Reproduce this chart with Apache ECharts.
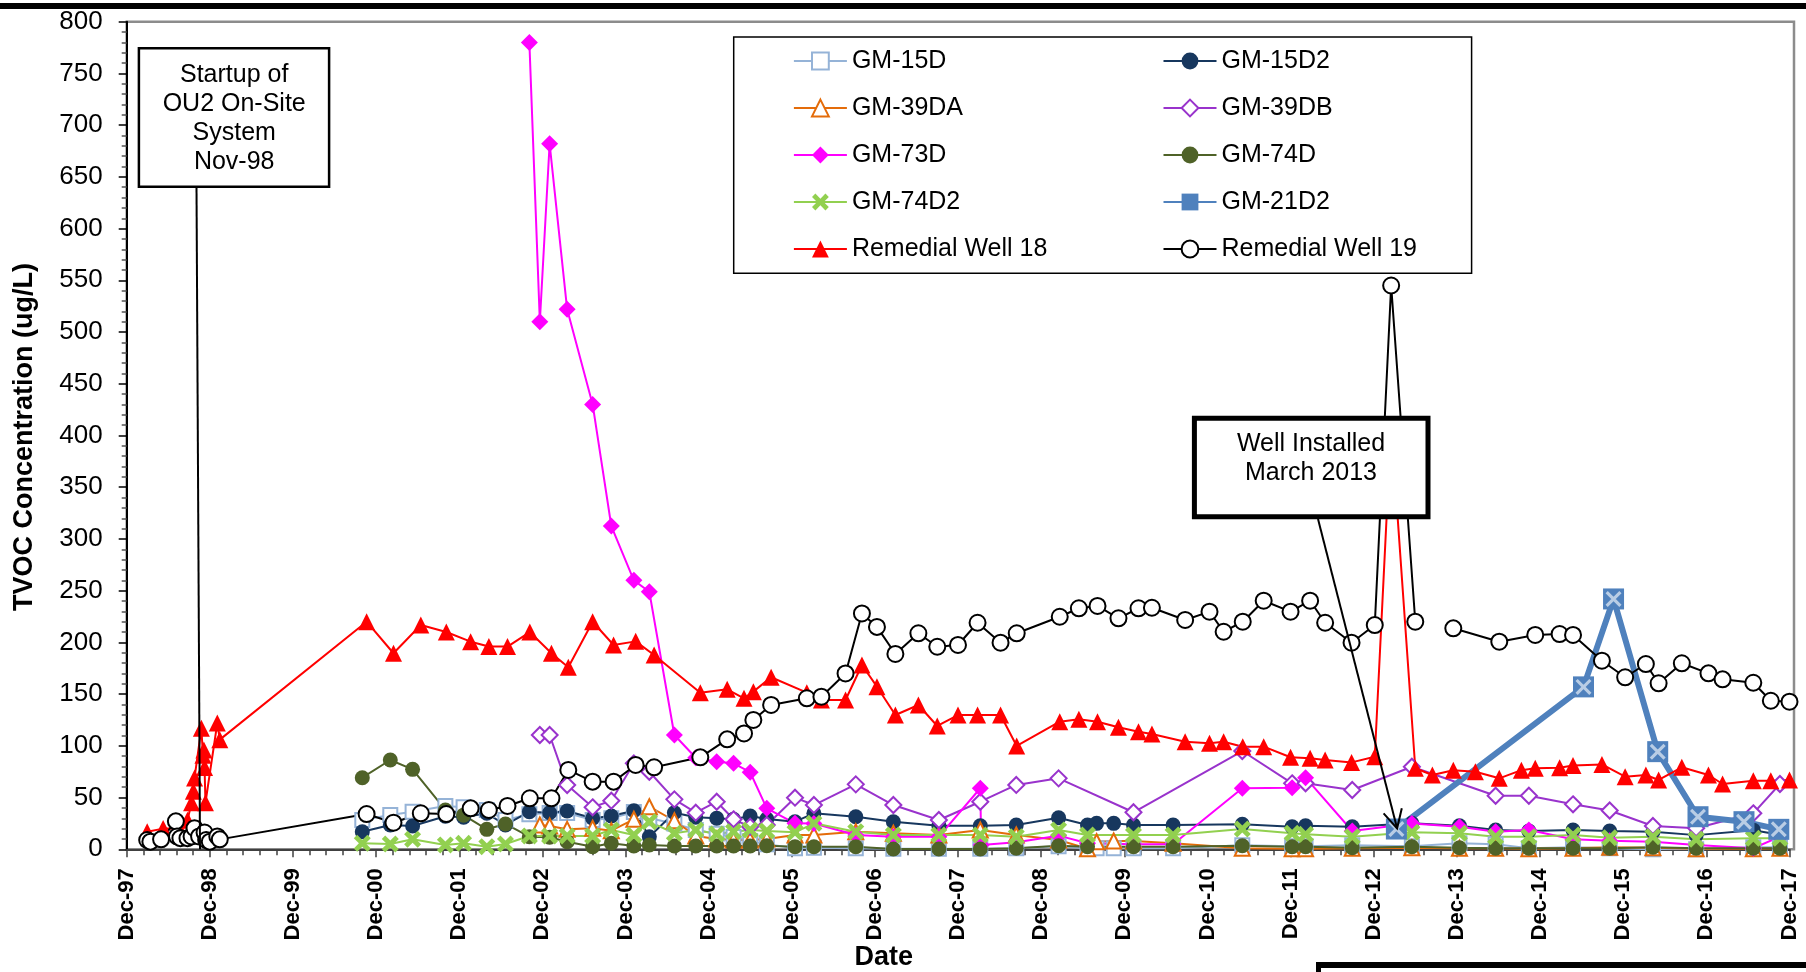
<!DOCTYPE html>
<html><head><meta charset="utf-8">
<script src="https://cdn.jsdelivr.net/npm/echarts@6/dist/echarts.min.js"></script>
<style>html,body{margin:0;padding:0;background:#fff}#c{width:1806px;height:972px}</style>
</head><body><div id="c"></div>
<script>
const FONT = '"Liberation Sans", Arial, sans-serif';
const xTickLabels = ['Dec-97','Dec-98','Dec-99','Dec-00','Dec-01','Dec-02','Dec-03','Dec-04','Dec-05','Dec-06','Dec-07','Dec-08','Dec-09','Dec-10','Dec-11','Dec-12','Dec-13','Dec-14','Dec-15','Dec-16','Dec-17'];

// Monitoring-well sampling dates (shared by the GM series)
const gmDates = ['2000-10-01','2001-02-01','2001-05-10','2001-10-01','2001-12-20','2002-04-01','2002-06-22','2002-10-05','2002-11-20','2003-01-02',
 '2003-03-20','2003-07-10','2003-09-30','2004-01-07','2004-03-15','2004-07-03','2004-10-05','2005-01-05','2005-03-20','2005-06-01',
 '2005-08-13','2005-12-15','2006-03-08','2006-09-08','2007-02-20','2007-09-08','2008-03-08','2008-03-12','2008-08-13','2009-02-15',
 '2009-06-22','2009-08-01','2009-10-15','2010-01-10','2010-07-03','2011-05-03','2011-12-08','2012-02-05','2012-08-28','2013-05-17',
 '2013-12-12','2014-05-20','2014-10-13','2015-04-25','2015-10-03','2016-04-10','2016-10-17','2017-06-25','2017-10-20'];

const gm15D = [28.3,33.2,36.3,41.9,40.6,38,28.3,34,null,35, 35,28.3,30,36,30,25,18.7,15,12,8, 5,1,1.5,1,0.5,0.5,0.5,null,1,3, 1,1,1,1,1,4,3,3,4,3, 5.8,4.8,1,2,1,0,0,2,2];
const gm15D2 = [17,23.5,22.5,32,31,34.8,23.5,36.3,null,35.4, 37,30,32.2,37.3,12.2,35.4,31,30,29,32.2, 29.3,26.7,34.8,31.5,26.7,22.8,22.8,null,23.5,30.5, 23.5,25.1,25.1,23.5,23.5,24.2,21.8,22.8,21.8,25.1, 22.8,18.7,17.7,18.7,17.7,17,13.7,18.5,14];
const gm39DA = [null,null,null,null,null,null,null,null,23.5,22.5, 19.3,20.3,18,29,41.2,27.6,12.9,10,9,9, 10,13.8,13.8,17,15.5,13.8,18.7,null,13.8,9, 0.5,7.3,8,8,5.8,1,0.5,0.5,1,1.5, 1,1,0.5,1,2,1.5,0.5,0.5,1];
const gm39DB = [null,null,null,null,null,null,null,null,110.5,110.5, 62.1,40.6,47,83.1,75,48.3,35.4,46,29,21.8, 23.5,49.9,42.8,62.8,42.8,28.3,46,null,62.2,68.6, null,null,null,35.8,null,95,63.8,63.8,57.3,79.8, null,51.8,51.8,43.5,37.5,22.5,20.3,34.8,63.1];
const gm73D = [null,null,null,null,null,null,null,780,510,682, 522,430,312.5,260,249,110.5,88.5,84.7,83.1,74.5, 39.6,25.1,25,13.8,12.2,12.2,59,4.2,6.8,13.2, 5.8,null,null,4.8,4.8,59,59.6,69.2,17.7,25, 21.8,17,18.7,9.7,8.3,7.3,4.2,1,12.2];
const gm74D = [69.2,86.3,77.3,38,33,19.3,24.5,12.2,null,11.6, 7.3,2.5,5.8,3.2,4.2,3.2,3.2,3.2,3.2,3.2, 3.5,2.5,2.5,2.5,0.3,0.3,0.3,null,1,3.5, 2.5,null,null,2.5,2.5,3.5,2.5,2.5,1.5,2.5, 1.5,1,1,1,1,2,1,1,1];
const gm74D2 = [5.8,5.1,9.7,4.2,5.8,2.5,5.1,12.9,null,12.9, 12.9,12.9,18.7,13.8,26.7,15.5,18.7,14.8,17,18.7, 17.7,16.4,25.1,17,13.8,13.8,13.8,null,12.2,18.7, 13.8,null,null,13.8,13.8,19.6,15.5,14.5,12.2,16.4, 15.5,12.2,12.2,13.8,11.2,12.2,9.7,10.6,10.6];

const gm21D2Dates = ['2013-03-10','2015-06-10','2015-10-20','2016-05-01','2016-10-25','2017-05-15','2017-10-15'];
const gm21D2Values = [19.6,157,242,94.4,31.5,26.7,19.3];

const rw18Dates = ['1998-03-01','1998-05-10','1998-07-20','1998-08-25','1998-09-12','1998-09-20','1998-09-25','1998-10-25','1998-11-01','1998-11-05','1998-11-08','1998-11-12','1999-01-03','1999-01-14',
 '2000-10-20','2001-02-15','2001-06-15','2001-10-05','2002-01-20','2002-04-10','2002-07-01','2002-10-07','2003-01-10','2003-03-25','2003-07-10','2003-10-10','2004-01-15','2004-04-05','2004-10-25',
 '2005-02-20','2005-05-05','2005-06-15','2005-09-01','2006-02-05','2006-04-10','2006-07-25','2006-10-05','2006-12-10','2007-03-01','2007-06-10','2007-09-01','2007-12-01','2008-02-25','2008-06-05',
 '2008-08-15','2009-02-20','2009-05-15','2009-08-05','2009-11-05','2010-02-01','2010-04-01','2010-08-25','2010-12-10','2011-02-10','2011-05-05','2011-08-05','2011-12-01','2012-02-25','2012-05-01',
 '2012-08-25','2012-12-05','2013-02-15','2013-06-01','2013-08-15','2013-11-15','2014-02-20','2014-06-05','2014-09-10','2014-11-10','2015-02-25','2015-04-25','2015-08-30','2015-12-10','2016-03-10',
 '2016-05-05','2016-08-15','2016-12-10','2017-02-10','2017-06-25','2017-09-10','2017-12-01'];
const rw18Values = [17,20,20,28,45,56,69,117,91,96,79,45,122,106,
 220,189.5,216.8,210,200.7,196,196,210,189.5,176,220,197.5,201,187.8,151.4,
 154.7,146,152.4,166.3,151.4,144.3,144.3,178.2,157.2,129.8,139.5,119.2,129.8,129.8,129.8,
 99.9,123.3,125.6,123.3,117.9,113.7,111.5,104,102.5,104,99.2,99.2,89,88,86.3,
 84,89.5,410,78.3,71.8,76.5,75,68.6,76.5,78.3,78.8,81,82,70.2,71.8,
 67,79.3,71.8,63.1,66.3,66.3,67];

const rw19Dates = ['1998-03-01','1998-03-15','1998-05-01','1998-07-05','1998-07-10','1998-07-25','1998-08-25','1998-09-12','1998-09-25','1998-10-15','1998-11-08','1998-11-15','1998-12-01','1999-01-03','1999-01-14',
 '2000-10-20','2001-02-15','2001-06-15','2001-10-05','2002-01-20','2002-04-10','2002-07-01','2002-10-07','2003-01-10','2003-03-25','2003-07-10','2003-10-10','2004-01-15','2004-04-05','2004-10-25',
 '2005-02-20','2005-05-05','2005-06-15','2005-09-01','2006-02-05','2006-04-10','2006-07-25','2006-10-05','2006-12-10','2007-03-01','2007-06-10','2007-09-01','2007-12-01','2008-02-25','2008-06-05',
 '2008-08-15','2009-02-20','2009-05-15','2009-08-05','2009-11-05','2010-02-01','2010-04-01','2010-08-25','2010-12-10','2011-02-10','2011-05-05','2011-08-05','2011-12-01','2012-02-25','2012-05-01',
 '2012-08-25','2012-12-05','2013-02-15','2013-06-01','2013-08-20','2013-11-15','2014-06-05','2014-11-10','2015-02-25','2015-04-25','2015-08-30','2015-12-10','2016-03-10','2016-05-05','2016-08-15',
 '2016-12-10','2017-02-10','2017-06-25','2017-09-10','2017-12-01'];
const rw19Values = [9,7.4,9.6,27,12.4,10.8,10.8,12.4,20.4,12.4,16.2,9,7.4,12.4,9.6,
 34.1,25.7,34.8,34.1,39.6,38,41.9,49.3,49.3,76.7,65.4,65.4,81.5,79.3,88.9,
 106.3,112,125,139.5,146,147.5,170,228,215,188.8,208.8,195.8,197.5,219,199.7,
 208.8,224.8,233,235.2,223.3,233,233.5,221.7,229.7,210.3,220,240.3,229.7,240.3,219,
 199.7,216.8,545,220,null,213.6,200.7,207.2,208.1,207.2,182.3,166.3,179.1,160.5,179.8,
 170.1,164.3,161,143.6,142.7];

// years since 1-Dec-1997 (x axis unit)
function toYears(s){const p=s.split('-').map(Number);return (Date.UTC(p[0],p[1]-1,p[2])-Date.UTC(1997,11,1))/(365.25*864e5);}
function pairs(dates, vals, keepNull){
  const out = dates.map((d,i)=>[toYears(d), vals[i]]);
  return keepNull ? out.map(p=>p[1]===null?[p[0],'-']:p) : out.filter(p=>p[1]!==null);
}

const X_PATH = 'path://M2,0L5,3L8,0L10,2L7,5L10,8L8,10L5,7L2,10L0,8L3,5L0,2Z';
const THIN_X = 'path://M0,1.4L1.4,0L10,8.6L8.6,10Z M8.6,0L10,1.4L1.4,10L0,8.6Z';

function mk(name, data, color, symbol, size, opts){
  opts = opts || {};
  const empty = symbol.indexOf('empty')===0;
  return Object.assign({
    name, type:'line', data, symbol, symbolSize:size, showSymbol:true,
    lineStyle:{color, width: opts.lw || 2},
    itemStyle:{color, borderColor:color, borderWidth: empty?2:0},
    emphasis:{disabled:true}, z:2
  }, opts.extra||{});
}

const series = [
  mk('GM-15D', pairs(gmDates, gm15D), '#95B3D7', 'emptyRect', 14),
  mk('GM-15D2', pairs(gmDates, gm15D2), '#17375E', 'circle', 15),
  mk('GM-39DA', pairs(gmDates, gm39DA), '#E46C0A', 'emptyTriangle', 15),
  mk('GM-39DB', pairs(gmDates, gm39DB), '#9933CC', 'emptyDiamond', 16),
  mk('GM-73D', pairs(gmDates, gm73D), '#FF00FF', 'diamond', 17),
  mk('GM-74D', pairs(gmDates, gm74D), '#4F6228', 'circle', 15),
  mk('GM-74D2', pairs(gmDates, gm74D2), '#92D050', X_PATH, 17),
  mk('GM-21D2', pairs(gm21D2Dates, gm21D2Values), '#4F81BD', 'rect', 21, {lw:6}),
  mk('GM-21D2 marks', pairs(gm21D2Dates, gm21D2Values), '#B9CDE5', THIN_X, 16, {extra:{lineStyle:{width:0,opacity:0}}}),
  mk('Remedial Well 18', pairs(rw18Dates, rw18Values), '#FF0000', 'triangle', 17),
  mk('Remedial Well 19', pairs(rw19Dates, rw19Values, true), '#000000', 'emptyCircle', 16, {extra:{connectNulls:false}})
];

const legendCommon = {
  orient:'vertical', top:46, padding:0, itemWidth:53, itemHeight:21, itemGap:17, z:60,
  selectedMode:false,
  textStyle:{fontSize:25, lineHeight:30, color:'#000', fontFamily:FONT}
};

const chart = echarts.init(document.getElementById('c'), null, {renderer:'canvas'});
chart.setOption({
  animation:false,
  backgroundColor:'#fff',
  grid:{left:126.7, right:16.5, top:21.7, bottom:122.7, show:false},
  xAxis:{type:'value', min:0, max:20, interval:1,
    axisLine:{show:true, onZero:false, lineStyle:{color:'#404040', width:2}},
    axisTick:{show:true, length:8, lineStyle:{color:'#404040', width:1.5}},
    minorTick:{show:true, splitNumber:5, length:6, lineStyle:{color:'#404040', width:1.5}},
    splitLine:{show:false}, minorSplitLine:{show:false},
    axisLabel:{rotate:90, margin:19, fontSize:22, fontWeight:'bold', color:'#000', fontFamily:FONT,
      formatter:v=>xTickLabels[Math.round(v)]||''}
  },
  yAxis:{type:'value', min:0, max:800, interval:50,
    axisLine:{show:true, lineStyle:{color:'#000', width:2}},
    axisTick:{show:true, length:8, lineStyle:{color:'#000', width:1.5}},
    minorTick:{show:true, splitNumber:5, length:5, lineStyle:{color:'#555', width:1.5}},
    splitLine:{show:false}, minorSplitLine:{show:false},
    axisLabel:{fontSize:26, margin:24, color:'#000', fontFamily:FONT}
  },
  legend:[
    Object.assign({left:792.9, data:['GM-15D','GM-39DA','GM-73D','GM-74D2','Remedial Well 18']}, legendCommon),
    Object.assign({left:1162.5, data:['GM-15D2','GM-39DB','GM-74D','GM-21D2','Remedial Well 19']}, legendCommon)
  ],
  series,
  graphic:[
    {type:'rect', shape:{x:126.7, y:21.7, width:1667.3, height:827.6}, style:{fill:'none', stroke:'#8c8c8c', lineWidth:2.5}, z:0, silent:true},
    {type:'rect', shape:{x:0, y:3, width:1806, height:6}, style:{fill:'#000'}, z:100, silent:true},
    {type:'rect', shape:{x:1316, y:962, width:490, height:6}, style:{fill:'#000'}, z:100, silent:true},
    {type:'rect', shape:{x:1316, y:962, width:5, height:10}, style:{fill:'#000'}, z:100, silent:true},
    // legend frame
    {type:'rect', shape:{x:733.7, y:37, width:737.9, height:236.3}, style:{fill:'#fff', stroke:'#000', lineWidth:1.5}, z:50, silent:true},
    // startup annotation
    {type:'line', shape:{x1:196.5, y1:186.7, x2:200, y2:849.3}, style:{stroke:'#000', lineWidth:2}, z:50, silent:true},
    {type:'rect', shape:{x:138.9, y:48.3, width:190.2, height:138.4}, style:{fill:'#fff', stroke:'#000', lineWidth:2.5}, z:50, silent:true},
    {type:'text', x:234.2, y:118.4, z:51, silent:true, style:{text:'Startup of\nOU2 On-Site\nSystem\nNov-98', fill:'#000', fontSize:25, lineHeight:29, fontFamily:FONT, align:'center', verticalAlign:'middle'}},
    // well installed annotation
    {type:'line', shape:{x1:1318, y1:519, x2:1397, y2:828}, style:{stroke:'#000', lineWidth:2}, z:50, silent:true},
    {type:'polyline', shape:{points:[[1383.6,813.3],[1397.1,828.3],[1401.8,808.3]]}, style:{stroke:'#000', lineWidth:2, fill:'none'}, z:50, silent:true},
    {type:'rect', shape:{x:1194.4, y:418.3, width:233.6, height:98.4}, style:{fill:'#fff', stroke:'#000', lineWidth:5}, z:50, silent:true},
    {type:'text', x:1311, y:458.8, z:51, silent:true, style:{text:'Well Installed\nMarch 2013', fill:'#000', fontSize:25, lineHeight:29, fontFamily:FONT, align:'center', verticalAlign:'middle'}},
    // axis titles
    {type:'text', x:25, y:437, rotation:Math.PI/2, z:51, silent:true, style:{text:'TVOC Concentration (ug/L)', fill:'#000', fontSize:27, fontWeight:'bold', fontFamily:FONT, align:'center', verticalAlign:'middle'}},
    {type:'text', x:883.8, y:958, z:51, silent:true, style:{text:'Date', fill:'#000', fontSize:27, fontWeight:'bold', fontFamily:FONT, align:'center', verticalAlign:'middle'}}
  ]
});
</script></body></html>
